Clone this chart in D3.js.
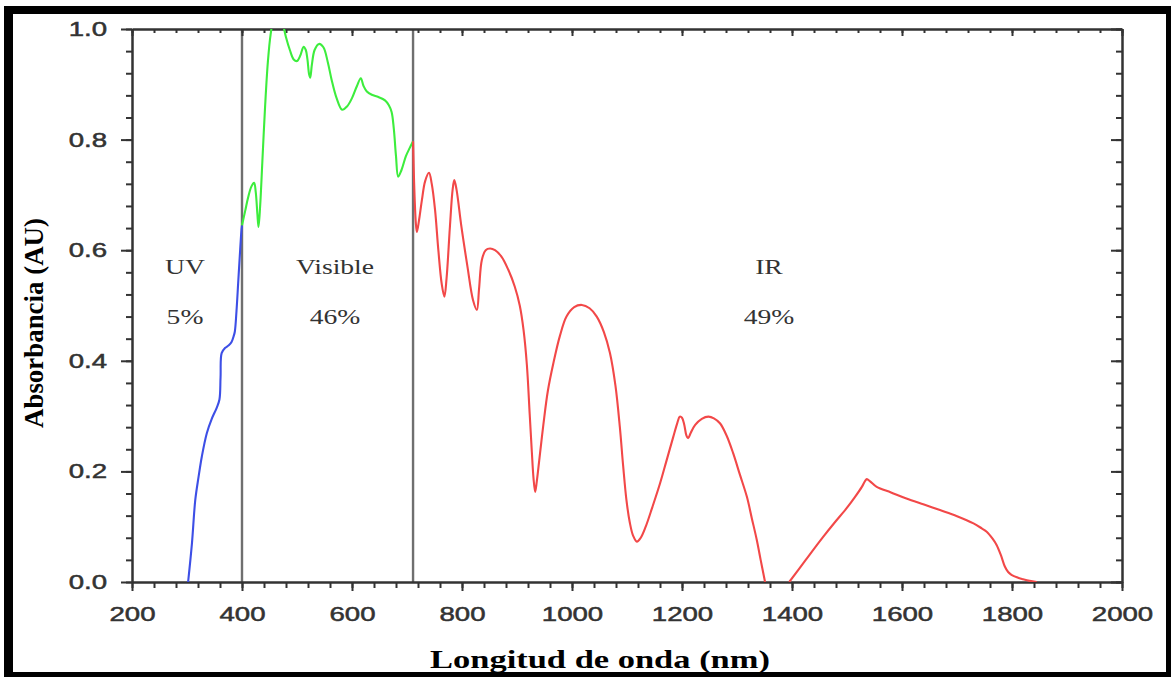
<!DOCTYPE html>
<html>
<head>
<meta charset="utf-8">
<script src="https://cdn.jsdelivr.net/npm/d3@7/dist/d3.min.js"></script>
<style>
  html, body { margin: 0; padding: 0; background: #fff; }
  svg { display: block; }
</style>
</head>
<body>
<svg id="chart" width="1171" height="677"></svg>
<script>
// Absorbance spectrum split into UV / visible / IR bands
const uvWave = [302, 309, 315, 321, 327, 336, 345, 354, 359, 361, 363, 369, 376, 381, 385, 387, 390, 393, 396, 399, 400];
const uvAbs  = [0, 0.07, 0.148, 0.19, 0.227, 0.269, 0.295, 0.315, 0.33, 0.37, 0.414, 0.423, 0.428, 0.434, 0.445, 0.453, 0.49, 0.54, 0.59, 0.636, 0.645];

const visWave = [400, 406, 411, 417, 422, 425, 428, 430, 433, 437, 442, 447, 452, 458, 466, 474, 480, 487, 494, 500, 506, 512, 516, 519, 522, 524, 527, 532, 540, 548, 556, 563, 572, 582, 591, 600, 609, 616, 621, 627, 636, 648, 660, 667, 672, 676, 680, 684, 690, 698, 705, 711];
const visAbs  = [0.645, 0.672, 0.695, 0.715, 0.722, 0.705, 0.665, 0.642, 0.68, 0.76, 0.86, 0.94, 0.99, 1.02, 1.03, 1.01, 0.985, 0.962, 0.945, 0.942, 0.952, 0.968, 0.962, 0.945, 0.918, 0.912, 0.935, 0.962, 0.973, 0.967, 0.94, 0.908, 0.875, 0.854, 0.86, 0.875, 0.897, 0.911, 0.897, 0.887, 0.881, 0.877, 0.871, 0.862, 0.85, 0.82, 0.77, 0.733, 0.745, 0.77, 0.785, 0.797];

// null marks the stretch where absorbance drops below zero (not drawn)
const irWave = [711, 713, 716, 718, 722, 727, 733, 740, 745, 751, 757, 763, 768, 772, 778, 783, 786, 790, 799, 810, 820, 827, 831, 836, 843, 851, 860, 872, 884, 896, 905, 912, 918, 923, 927, 930, 933, 936, 941, 948, 956, 966, 978, 990, 1004, 1018, 1032, 1045, 1058, 1069, 1079, 1087, 1093, 1099, 1105, 1111, 1118, 1125, 1134, 1146, 1160, 1172, 1184, 1191, 1196, 1200, 1204, 1208, 1211, 1216, 1224, 1236, 1248, 1258, 1269, 1281, 1293, 1305, 1318, 1327, 1336, 1343, 1351, 1373, 1395, 1425, 1457, 1478, 1499, 1514, 1527, 1533, 1536, 1542, 1554, 1580, 1608, 1640, 1669, 1700, 1730, 1745, 1754, 1765, 1772, 1780, 1787, 1793, 1799, 1810, 1820, 1832, 1845];
const irAbs  = [0.797, 0.72, 0.65, 0.633, 0.655, 0.69, 0.725, 0.74, 0.72, 0.673, 0.6, 0.54, 0.516, 0.55, 0.642, 0.71, 0.727, 0.71, 0.642, 0.57, 0.51, 0.492, 0.53, 0.582, 0.6, 0.603, 0.6, 0.588, 0.565, 0.534, 0.5, 0.455, 0.392, 0.305, 0.235, 0.188, 0.163, 0.182, 0.225, 0.285, 0.345, 0.395, 0.445, 0.48, 0.497, 0.501, 0.495, 0.48, 0.452, 0.414, 0.355, 0.28, 0.21, 0.148, 0.108, 0.084, 0.073, 0.08, 0.1, 0.135, 0.178, 0.22, 0.262, 0.286, 0.299, 0.297, 0.285, 0.265, 0.26, 0.27, 0.284, 0.295, 0.299, 0.296, 0.287, 0.265, 0.233, 0.195, 0.154, 0.115, 0.076, 0.04, 0.0, null, 0, 0.04, 0.082, 0.108, 0.133, 0.153, 0.172, 0.183, 0.186, 0.182, 0.172, 0.162, 0.151, 0.14, 0.13, 0.119, 0.106, 0.097, 0.091, 0.078, 0.067, 0.048, 0.028, 0.018, 0.013, 0.008, 0.005, 0.002, 0];

const bandEdges    = [400, 711];
const bandNames    = ["UV", "Visible", "IR"];
const bandShares   = ["5%", "46%", "49%"];

const xMajorTicks = d3.range(200, 2001, 200);
const xMinorTicks = d3.range(200, 2001, 40);
const yMajorTicks = [0, 0.2, 0.4, 0.6, 0.8, 1.0];
const yMinorTicks = d3.range(0, 26).map(i => +(i * 0.04).toFixed(2));

const xTitle = "Longitud de onda (nm)";
const yTitle = "Absorbancia (AU)";

// ---- layout ----
const svg = d3.select("#chart");
const W = 1171, H = 677;
const plot = { left: 132, right: 1122, top: 29, bottom: 582 };
const stretchX = 1.38;   // text is drawn horizontally widened

const x = d3.scaleLinear().domain([200, 2000]).range([plot.left, plot.right]);
const y = d3.scaleLinear().domain([0, 1]).range([plot.bottom, plot.top]);

const axisColor = "#333";
const textColor = "#333";

function widen(sel, k) {
  sel.each(function () {
    const len = this.getComputedTextLength();
    d3.select(this).attr("textLength", len * k).attr("lengthAdjust", "spacingAndGlyphs");
  });
}

// outer black frame
svg.append("rect").attr("x", 4).attr("y", 6).attr("width", W - 4).attr("height", 8).attr("fill", "#000");
svg.append("rect").attr("x", 4).attr("y", 6).attr("width", 9).attr("height", H - 6).attr("fill", "#000");
svg.append("rect").attr("x", 4).attr("y", 672).attr("width", W - 4).attr("height", 5).attr("fill", "#000");
svg.append("rect").attr("x", 1166).attr("y", 6).attr("width", 5).attr("height", H - 6).attr("fill", "#000");

// band separators
svg.append("g").selectAll("line").data(bandEdges).join("line")
  .attr("x1", d => x(d)).attr("x2", d => x(d))
  .attr("y1", plot.top).attr("y2", plot.bottom)
  .attr("stroke", "#6f6f6f").attr("stroke-width", 2.4);

// axes
function styleAxis(g) {
  g.selectAll("path.domain").attr("stroke", axisColor).attr("stroke-width", 2);
  g.selectAll(".tick line").attr("stroke", axisColor).attr("stroke-width", 2);
}

const gxMinor = svg.append("g").attr("transform", `translate(0,${plot.bottom})`)
  .call(d3.axisBottom(x).tickValues(xMinorTicks).tickSize(6).tickSizeOuter(0).tickFormat(""));
styleAxis(gxMinor);
const gx = svg.append("g").attr("transform", `translate(0,${plot.bottom})`)
  .call(d3.axisBottom(x).tickValues(xMajorTicks).tickSize(9).tickSizeOuter(0).tickPadding(16).tickFormat(d3.format("d")));
styleAxis(gx);

const gxTopMinor = svg.append("g").attr("transform", `translate(0,${plot.top})`)
  .call(d3.axisTop(x).tickValues(xMinorTicks).tickSize(-4).tickSizeOuter(0).tickFormat(""));
styleAxis(gxTopMinor);
const gxTop = svg.append("g").attr("transform", `translate(0,${plot.top})`)
  .call(d3.axisTop(x).tickValues(xMajorTicks).tickSize(-7).tickSizeOuter(0).tickFormat(""));
styleAxis(gxTop);

const gyMinor = svg.append("g").attr("transform", `translate(${plot.left},0)`)
  .call(d3.axisLeft(y).tickValues(yMinorTicks).tickSize(6).tickSizeOuter(0).tickFormat(""));
styleAxis(gyMinor);
const gy = svg.append("g").attr("transform", `translate(${plot.left},0)`)
  .call(d3.axisLeft(y).tickValues(yMajorTicks).tickSize(11).tickSizeOuter(0).tickPadding(14).tickFormat(d3.format(".1f")));
styleAxis(gy);

const gyRightMinor = svg.append("g").attr("transform", `translate(${plot.right},0)`)
  .call(d3.axisRight(y).tickValues(yMinorTicks).tickSize(-6).tickSizeOuter(0).tickFormat(""));
styleAxis(gyRightMinor);
const gyRight = svg.append("g").attr("transform", `translate(${plot.right},0)`)
  .call(d3.axisRight(y).tickValues(yMajorTicks).tickSize(-11).tickSizeOuter(0).tickFormat(""));
styleAxis(gyRight);

[gx, gy].forEach(g => g.selectAll(".tick text")
  .attr("fill", textColor)
  .attr("stroke", textColor).attr("stroke-width", 0.5)
  .style("font-family", "'Liberation Sans', Arial, sans-serif")
  .style("font-size", "20px"));
gx.selectAll(".tick text").attr("dy", "0.71em");
widen(gx.selectAll(".tick text"), stretchX);
widen(gy.selectAll(".tick text"), stretchX);

// spectrum curves
svg.append("clipPath").attr("id", "plot-clip")
  .append("rect").attr("x", plot.left).attr("y", plot.top)
  .attr("width", plot.right - plot.left).attr("height", plot.bottom - plot.top);

const line = d3.line()
  .defined(d => d[1] !== null)
  .x(d => x(d[0])).y(d => y(d[1]))
  .curve(d3.curveCatmullRom.alpha(0.5));

const series = [
  { wave: uvWave,  abs: uvAbs,  color: "#3d4fe6" },
  { wave: visWave, abs: visAbs, color: "#3ded3d" },
  { wave: irWave,  abs: irAbs,  color: "#f24848" }
];

svg.append("g").attr("clip-path", "url(#plot-clip)")
  .selectAll("path").data(series).join("path")
  .attr("d", s => line(s.wave.map((w, i) => [w, s.abs[i]])))
  .attr("fill", "none")
  .attr("stroke", s => s.color)
  .attr("stroke-width", 2.1)
  .attr("stroke-linejoin", "round");

// band labels
const bandLabelX = [185, 335, 769];
const serif = "'Liberation Serif', 'Times New Roman', serif";
const labels = svg.append("g").attr("fill", textColor)
  .style("font-family", serif).style("font-size", "20px").attr("text-anchor", "middle");
labels.selectAll("text.name").data(bandNames).join("text").attr("class", "name")
  .attr("x", (d, i) => bandLabelX[i]).attr("y", 274).text(d => d);
labels.selectAll("text.share").data(bandShares).join("text").attr("class", "share")
  .attr("x", (d, i) => bandLabelX[i]).attr("y", 324).text(d => d);
widen(labels.selectAll("text"), stretchX);

// axis titles
svg.append("text")
  .attr("x", 600).attr("y", 668).attr("text-anchor", "middle")
  .attr("fill", "#000").style("font-family", serif).style("font-weight", "bold").style("font-size", "25px")
  .attr("textLength", 340).attr("lengthAdjust", "spacingAndGlyphs")
  .text(xTitle);

svg.append("text")
  .attr("transform", "translate(43,323) rotate(-90)")
  .attr("text-anchor", "middle")
  .attr("fill", "#000").style("font-family", serif).style("font-weight", "bold").style("font-size", "27px")
  .attr("textLength", 210).attr("lengthAdjust", "spacingAndGlyphs")
  .text(yTitle);
</script>
</body>
</html>
